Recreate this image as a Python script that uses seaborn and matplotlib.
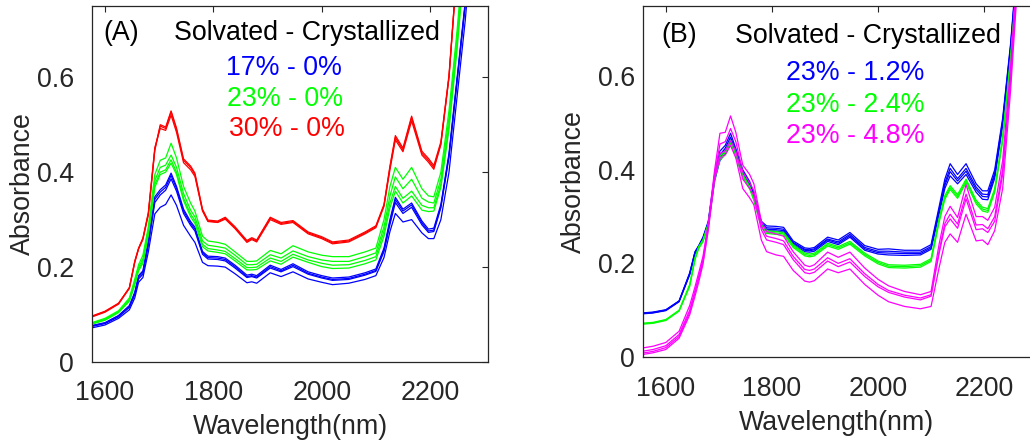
import matplotlib
matplotlib.use("Agg")
import pandas as pd
import matplotlib.pyplot as plt
import seaborn as sns

# wavelength knots (nm), shared by every spectrum
WAVELENGTH = [1555, 1576, 1600, 1625, 1645, 1655, 1662, 1670, 1680, 1692,
              1702, 1712, 1722, 1732, 1745, 1758, 1766, 1780, 1790, 1808,
              1822, 1840, 1862, 1871, 1880, 1905, 1925, 1947, 1975, 2000,
              2020, 2050, 2080, 2100, 2115, 2126, 2136, 2150, 2166, 2185,
              2197, 2207, 2220, 2235, 2250, 2265, 2280]

# ---------------------------
# Panel A: 17%, 23%, 30% solvated, 0% crystallized
# ---------------------------
A_BLUE = [
    [0.073, 0.077, 0.083, 0.098, 0.119, 0.147, 0.182, 0.192, 0.255, 0.348,
     0.363, 0.373, 0.398, 0.370, 0.322, 0.296, 0.284, 0.233, 0.223, 0.222,
     0.219, 0.204, 0.183, 0.185, 0.182, 0.204, 0.195, 0.207, 0.190, 0.182,
     0.177, 0.179, 0.188, 0.196, 0.240, 0.300, 0.347, 0.322, 0.335, 0.297,
     0.280, 0.282, 0.332, 0.440, 0.600, 0.760, 0.950],
    [0.072, 0.076, 0.082, 0.097, 0.117, 0.145, 0.179, 0.189, 0.251, 0.343,
     0.358, 0.368, 0.393, 0.366, 0.318, 0.292, 0.280, 0.230, 0.220, 0.219,
     0.216, 0.201, 0.180, 0.182, 0.179, 0.201, 0.192, 0.204, 0.187, 0.179,
     0.174, 0.176, 0.185, 0.193, 0.236, 0.295, 0.342, 0.318, 0.331, 0.293,
     0.276, 0.278, 0.328, 0.435, 0.595, 0.755, 0.945],
    [0.071, 0.075, 0.081, 0.095, 0.115, 0.142, 0.175, 0.185, 0.246, 0.336,
     0.352, 0.362, 0.386, 0.360, 0.313, 0.288, 0.276, 0.227, 0.217, 0.216,
     0.213, 0.198, 0.178, 0.180, 0.177, 0.198, 0.190, 0.201, 0.185, 0.177,
     0.172, 0.174, 0.183, 0.191, 0.233, 0.290, 0.336, 0.313, 0.326, 0.289,
     0.273, 0.275, 0.325, 0.432, 0.592, 0.752, 0.942],
    [0.068, 0.072, 0.078, 0.092, 0.110, 0.135, 0.168, 0.178, 0.232, 0.312,
     0.326, 0.332, 0.352, 0.330, 0.288, 0.265, 0.252, 0.210, 0.203, 0.202,
     0.200, 0.186, 0.167, 0.169, 0.166, 0.188, 0.180, 0.190, 0.175, 0.168,
     0.163, 0.166, 0.174, 0.182, 0.220, 0.275, 0.313, 0.295, 0.300, 0.272,
     0.260, 0.260, 0.300, 0.400, 0.560, 0.720, 0.920],
]
A_GREEN = [
    [0.078, 0.083, 0.092, 0.108, 0.135, 0.175, 0.205, 0.225, 0.285, 0.395,
     0.425, 0.430, 0.461, 0.430, 0.370, 0.335, 0.318, 0.265, 0.255, 0.252,
     0.248, 0.232, 0.212, 0.212, 0.213, 0.235, 0.228, 0.245, 0.232, 0.225,
     0.222, 0.222, 0.232, 0.240, 0.300, 0.370, 0.410, 0.385, 0.410, 0.365,
     0.350, 0.348, 0.400, 0.530, 0.700, 0.900, 1.100],
    [0.077, 0.082, 0.090, 0.106, 0.132, 0.170, 0.200, 0.217, 0.278, 0.382,
     0.410, 0.415, 0.436, 0.410, 0.355, 0.320, 0.306, 0.255, 0.246, 0.243,
     0.240, 0.225, 0.205, 0.205, 0.206, 0.226, 0.219, 0.234, 0.222, 0.215,
     0.212, 0.212, 0.222, 0.230, 0.285, 0.350, 0.390, 0.365, 0.385, 0.345,
     0.337, 0.335, 0.385, 0.515, 0.685, 0.880, 1.080],
    [0.076, 0.081, 0.089, 0.105, 0.130, 0.166, 0.196, 0.212, 0.273, 0.374,
     0.400, 0.405, 0.426, 0.400, 0.345, 0.312, 0.298, 0.248, 0.239, 0.236,
     0.233, 0.218, 0.199, 0.199, 0.200, 0.219, 0.212, 0.227, 0.215, 0.208,
     0.204, 0.205, 0.214, 0.222, 0.275, 0.335, 0.370, 0.345, 0.360, 0.330,
     0.325, 0.325, 0.375, 0.500, 0.670, 0.870, 1.070],
    [0.075, 0.080, 0.088, 0.104, 0.128, 0.162, 0.192, 0.208, 0.268, 0.368,
     0.395, 0.400, 0.419, 0.395, 0.340, 0.306, 0.292, 0.243, 0.234, 0.231,
     0.228, 0.213, 0.194, 0.194, 0.195, 0.213, 0.206, 0.221, 0.210, 0.201,
     0.197, 0.198, 0.207, 0.215, 0.265, 0.325, 0.360, 0.335, 0.350, 0.320,
     0.317, 0.318, 0.368, 0.490, 0.660, 0.860, 1.060],
]
A_RED = [
    [0.090, 0.095, 0.105, 0.122, 0.155, 0.210, 0.238, 0.258, 0.310, 0.446,
     0.497, 0.492, 0.527, 0.490, 0.425, 0.410, 0.395, 0.320, 0.297, 0.295,
     0.303, 0.283, 0.254, 0.260, 0.255, 0.303, 0.292, 0.296, 0.272, 0.262,
     0.251, 0.255, 0.272, 0.285, 0.330, 0.410, 0.473, 0.447, 0.515, 0.440,
     0.425, 0.410, 0.460, 0.600, 0.830, 1.050, 1.200],
    [0.091, 0.096, 0.106, 0.123, 0.157, 0.213, 0.240, 0.261, 0.315, 0.452,
     0.492, 0.488, 0.520, 0.484, 0.420, 0.405, 0.391, 0.318, 0.296, 0.294,
     0.301, 0.281, 0.252, 0.258, 0.253, 0.300, 0.290, 0.294, 0.270, 0.260,
     0.249, 0.253, 0.270, 0.283, 0.328, 0.405, 0.468, 0.443, 0.508, 0.436,
     0.421, 0.406, 0.458, 0.600, 0.835, 1.055, 1.200],
    [0.092, 0.097, 0.107, 0.124, 0.156, 0.211, 0.239, 0.260, 0.312, 0.448,
     0.500, 0.495, 0.529, 0.493, 0.428, 0.413, 0.398, 0.322, 0.299, 0.297,
     0.305, 0.285, 0.256, 0.262, 0.257, 0.305, 0.294, 0.298, 0.274, 0.264,
     0.253, 0.257, 0.274, 0.287, 0.332, 0.413, 0.477, 0.451, 0.518, 0.444,
     0.429, 0.414, 0.464, 0.605, 0.835, 1.055, 1.200],
]

# ---------------------------
# Panel B: 23% solvated, 1.2 / 2.4 / 4.8% crystallized
# ---------------------------
B_BLUE = [
    [0.094, 0.096, 0.101, 0.120, 0.180, 0.225, 0.238, 0.256, 0.290, 0.390,
     0.440, 0.452, 0.478, 0.445, 0.400, 0.375, 0.350, 0.290, 0.280, 0.279,
     0.277, 0.248, 0.233, 0.232, 0.234, 0.256, 0.250, 0.266, 0.238, 0.230,
     0.231, 0.228, 0.228, 0.240, 0.320, 0.380, 0.413, 0.390, 0.413, 0.370,
     0.355, 0.355, 0.400, 0.510, 0.670, 0.880, 1.100],
    [0.093, 0.095, 0.100, 0.119, 0.178, 0.224, 0.237, 0.254, 0.287, 0.385,
     0.432, 0.446, 0.470, 0.440, 0.396, 0.371, 0.346, 0.287, 0.276, 0.275,
     0.273, 0.245, 0.230, 0.229, 0.231, 0.252, 0.246, 0.262, 0.234, 0.226,
     0.226, 0.224, 0.224, 0.236, 0.314, 0.372, 0.403, 0.381, 0.403, 0.363,
     0.348, 0.347, 0.393, 0.505, 0.665, 0.875, 1.095],
    [0.093, 0.095, 0.100, 0.119, 0.177, 0.223, 0.236, 0.253, 0.285, 0.382,
     0.427, 0.441, 0.464, 0.436, 0.393, 0.368, 0.343, 0.284, 0.273, 0.272,
     0.270, 0.243, 0.228, 0.227, 0.229, 0.250, 0.243, 0.259, 0.231, 0.223,
     0.222, 0.221, 0.221, 0.233, 0.310, 0.367, 0.396, 0.376, 0.397, 0.358,
     0.343, 0.342, 0.388, 0.500, 0.660, 0.870, 1.090],
    [0.092, 0.094, 0.099, 0.118, 0.176, 0.221, 0.234, 0.250, 0.281, 0.376,
     0.420, 0.434, 0.456, 0.430, 0.388, 0.364, 0.339, 0.281, 0.270, 0.269,
     0.267, 0.240, 0.225, 0.224, 0.226, 0.247, 0.240, 0.256, 0.228, 0.220,
     0.218, 0.217, 0.218, 0.230, 0.305, 0.360, 0.387, 0.370, 0.390, 0.352,
     0.337, 0.336, 0.382, 0.495, 0.655, 0.865, 1.085],
]
B_GREEN = [
    [0.072, 0.074, 0.080, 0.100, 0.155, 0.212, 0.236, 0.250, 0.285, 0.385,
     0.430, 0.440, 0.463, 0.435, 0.390, 0.365, 0.340, 0.283, 0.270, 0.268,
     0.266, 0.240, 0.222, 0.220, 0.222, 0.243, 0.236, 0.247, 0.222, 0.205,
     0.197, 0.196, 0.198, 0.210, 0.295, 0.345, 0.366, 0.347, 0.380, 0.335,
     0.320, 0.317, 0.360, 0.470, 0.640, 0.850, 1.080],
    [0.071, 0.073, 0.079, 0.099, 0.153, 0.210, 0.234, 0.248, 0.283, 0.382,
     0.426, 0.436, 0.459, 0.432, 0.387, 0.362, 0.337, 0.280, 0.267, 0.265,
     0.263, 0.237, 0.219, 0.217, 0.219, 0.240, 0.233, 0.244, 0.219, 0.202,
     0.194, 0.193, 0.195, 0.207, 0.291, 0.341, 0.362, 0.343, 0.376, 0.331,
     0.316, 0.313, 0.356, 0.466, 0.636, 0.846, 1.076],
    [0.070, 0.072, 0.078, 0.098, 0.151, 0.208, 0.232, 0.246, 0.281, 0.379,
     0.422, 0.432, 0.454, 0.428, 0.384, 0.359, 0.334, 0.277, 0.264, 0.262,
     0.260, 0.234, 0.216, 0.214, 0.216, 0.237, 0.230, 0.241, 0.216, 0.199,
     0.191, 0.190, 0.192, 0.204, 0.287, 0.337, 0.358, 0.339, 0.372, 0.327,
     0.312, 0.309, 0.352, 0.462, 0.632, 0.842, 1.072],
]
B_MAGENTA = [
    [0.019, 0.023, 0.031, 0.055, 0.110, 0.150, 0.180, 0.215, 0.285, 0.400,
     0.478, 0.480, 0.515, 0.480, 0.410, 0.390, 0.370, 0.290, 0.268, 0.263,
     0.258, 0.225, 0.196, 0.193, 0.197, 0.224, 0.213, 0.224, 0.190, 0.166,
     0.152, 0.140, 0.133, 0.140, 0.240, 0.300, 0.322, 0.298, 0.368, 0.300,
     0.300, 0.292, 0.320, 0.420, 0.620, 0.880, 1.100],
    [0.012, 0.016, 0.024, 0.048, 0.100, 0.142, 0.172, 0.208, 0.280, 0.390,
     0.455, 0.460, 0.488, 0.460, 0.395, 0.372, 0.355, 0.280, 0.258, 0.253,
     0.248, 0.215, 0.187, 0.185, 0.188, 0.212, 0.200, 0.210, 0.178, 0.155,
     0.142, 0.132, 0.126, 0.133, 0.225, 0.285, 0.305, 0.284, 0.348, 0.282,
     0.283, 0.274, 0.300, 0.400, 0.600, 0.860, 1.080],
    [0.008, 0.012, 0.020, 0.044, 0.095, 0.137, 0.167, 0.203, 0.275, 0.385,
     0.435, 0.440, 0.462, 0.440, 0.380, 0.360, 0.345, 0.272, 0.250, 0.245,
     0.240, 0.208, 0.180, 0.178, 0.181, 0.205, 0.193, 0.203, 0.172, 0.150,
     0.138, 0.128, 0.122, 0.130, 0.220, 0.278, 0.295, 0.275, 0.338, 0.272,
     0.274, 0.266, 0.290, 0.390, 0.590, 0.850, 1.070],
    [0.005, 0.009, 0.016, 0.040, 0.090, 0.130, 0.160, 0.198, 0.270, 0.380,
     0.425, 0.432, 0.452, 0.425, 0.360, 0.340, 0.325, 0.250, 0.225, 0.218,
     0.215, 0.185, 0.162, 0.160, 0.163, 0.188, 0.180, 0.188, 0.155, 0.132,
     0.118, 0.108, 0.103, 0.108, 0.190, 0.245, 0.263, 0.245, 0.305, 0.248,
     0.250, 0.240, 0.270, 0.360, 0.570, 0.830, 1.050],
]

LABELS_A = ["17% - 0%", "23% - 0%", "30% - 0%"]
LABELS_B = ["23% - 1.2%", "23% - 2.4%", "23% - 4.8%"]
COLORS_A = ["#0000ff", "#00ff00", "#ff0000"]
COLORS_B = ["#0000ff", "#00ff00", "#ff00ff"]


def to_long(groups, labels):
    rows = []
    for label, curves in zip(labels, groups):
        for rep, curve in enumerate(curves):
            for wl, a in zip(WAVELENGTH, curve):
                rows.append((label, rep, wl, a))
    return pd.DataFrame(rows, columns=["sample", "rep", "wavelength", "absorbance"])


df_a = to_long([A_BLUE, A_GREEN, A_RED], LABELS_A)
df_b = to_long([B_BLUE, B_GREEN, B_MAGENTA], LABELS_B)

sns.set_style("white")
plt.rcParams['font.family'] = ['Liberation Sans', 'DejaVu Sans']

GRAY = "#262626"
FS = 19.3

fig = plt.figure(figsize=(10.3, 4.46), dpi=100)
ax_a = fig.add_axes([0.0893, 0.1883, 0.3845, 0.7982])
ax_b = fig.add_axes([0.6243, 0.1996, 0.3816, 0.7870])

panels = [
    (ax_a, df_a, LABELS_A, COLORS_A, (1576, 2307), "(A)"),
    (ax_b, df_b, LABELS_B, COLORS_B, (1557, 2298), "(B)"),
]

for ax, df, labels, colors, xlim, tag in panels:
    sns.lineplot(data=df, x="wavelength", y="absorbance", hue="sample",
                 units="rep", estimator=None, sort=False,
                 palette=dict(zip(labels, colors)), hue_order=labels,
                 linewidth=0.9, legend=False, ax=ax)
    ax.set_xlim(*xlim)
    ax.set_ylim(0, 0.75)
    ax.set_xticks([1600, 1800, 2000, 2200])
    ax.set_yticks([0, 0.2, 0.4, 0.6])
    ax.set_yticklabels(["0", "0.2", "0.4", "0.6"])
    ax.tick_params(direction="in", top=True, right=True, length=4, width=0.8,
                   labelsize=FS, colors=GRAY)
    for sp in ax.spines.values():
        sp.set_visible(True)
        sp.set_color(GRAY)
        sp.set_linewidth(0.9)
    ax.set_xlabel("Wavelength(nm)", fontsize=FS, color=GRAY, va="center")
    ax.set_ylabel("Absorbance", fontsize=FS, color=GRAY, va="center")

ax_a.tick_params(axis="x", pad=13)
ax_a.tick_params(axis="y", pad=13)
ax_b.tick_params(axis="x", pad=14)
ax_b.tick_params(axis="y", pad=6)
ax_a.xaxis.set_label_coords(0.5, -0.183)
ax_a.yaxis.set_label_coords(-0.174, 0.5)
ax_b.xaxis.set_label_coords(0.492, -0.187)
ax_b.yaxis.set_label_coords(-0.175, 0.5)

# annotations, panel A
ax_a.text(0.030, 0.9045, "(A)", transform=ax_a.transAxes, fontsize=FS,
          ha="left", va="baseline", color="black")
ax_a.text(0.544, 0.9045, "Solvated - Crystallized", transform=ax_a.transAxes,
          fontsize=FS, ha="center", va="baseline", color="black")
for label, color, x, y in zip(LABELS_A, COLORS_A, [0.485, 0.487, 0.493],
                              [0.806, 0.719, 0.635]):
    ax_a.text(x, y, label, transform=ax_a.transAxes, fontsize=FS,
              ha="center", va="baseline", color=color)

# annotations, panel B
ax_b.text(0.047, 0.898, "(B)", transform=ax_b.transAxes, fontsize=FS,
          ha="left", va="baseline", color="black")
ax_b.text(0.571, 0.894, "Solvated - Crystallized", transform=ax_b.transAxes,
          fontsize=FS, ha="center", va="baseline", color="black")
for label, color, y in zip(LABELS_B, COLORS_B, [0.789, 0.699, 0.611]):
    ax_b.text(0.540, y, label, transform=ax_b.transAxes, fontsize=FS,
              ha="center", va="baseline", color=color)

fig.savefig("out.png", dpi=100, facecolor="white")
